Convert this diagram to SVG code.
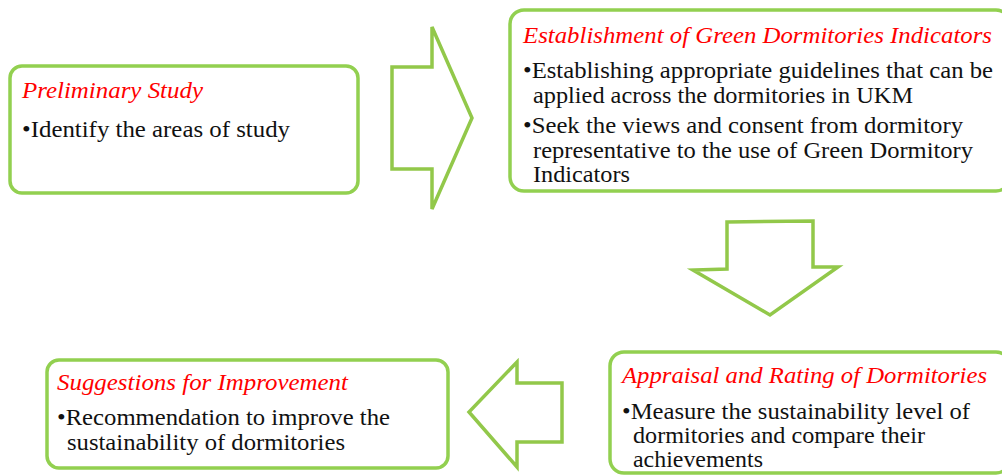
<svg xmlns="http://www.w3.org/2000/svg" width="1002" height="475" viewBox="0 0 1002 475" font-family="Liberation Serif, Times New Roman, serif">
<style>
.box{fill:#fff;stroke:#92D050;stroke-width:3.5}
.arr{fill:#fff;stroke:#92C84A;stroke-width:3.5;stroke-linejoin:miter}
.t{font-style:italic;font-size:23px;fill:#FF0000}
.b{font-size:23px;fill:#111}
</style>
<rect width="1002" height="475" fill="#fff"/>
<g id="connectors">
<polygon class="arr" points="392,67 432,67 432,27 472,118 432,209 432,169 392,169"/>
<polygon class="arr" points="727,222 813,221 813,267 838,267 770,315 693,270 727,269"/>
<polygon class="arr" points="562,383 517,383 517,362 469,412 517,467 517,442 562,442"/>
</g>
<g id="n1">
<rect class="box" x="10" y="66" width="348" height="127" rx="12"/>
<text class="t" x="22" y="98" textLength="181" lengthAdjust="spacingAndGlyphs">Preliminary Study</text>
<text class="b" x="22" y="137" textLength="268" lengthAdjust="spacingAndGlyphs">•Identify the areas of study</text>
</g>
<g id="n2">
<rect class="box" x="510" y="10" width="500" height="181" rx="14"/>
<text class="t" x="523" y="43" textLength="469" lengthAdjust="spacingAndGlyphs">Establishment of Green Dormitories Indicators</text>
<text class="b" x="523" y="78" textLength="470" lengthAdjust="spacingAndGlyphs">•Establishing appropriate guidelines that can be</text>
<text class="b" x="533" y="103" textLength="380" lengthAdjust="spacingAndGlyphs">applied across the dormitories in UKM</text>
<text class="b" x="523" y="133" textLength="440" lengthAdjust="spacingAndGlyphs">•Seek the views and consent from dormitory</text>
<text class="b" x="533" y="158" textLength="440" lengthAdjust="spacingAndGlyphs">representative to the use of Green Dormitory</text>
<text class="b" x="533" y="182" textLength="97" lengthAdjust="spacingAndGlyphs">Indicators</text>
</g>
<g id="n3">
<rect class="box" x="610" y="352" width="400" height="121" rx="14"/>
<text class="t" x="622" y="383" textLength="365" lengthAdjust="spacingAndGlyphs">Appraisal and Rating of Dormitories</text>
<text class="b" x="622" y="419" textLength="348" lengthAdjust="spacingAndGlyphs">•Measure the sustainability level of</text>
<text class="b" x="633" y="443" textLength="292" lengthAdjust="spacingAndGlyphs">dormitories and compare their</text>
<text class="b" x="633" y="467" textLength="130" lengthAdjust="spacingAndGlyphs">achievements</text>
</g>
<g id="n4">
<rect class="box" x="47" y="360" width="401" height="108" rx="12"/>
<text class="t" x="57" y="390" textLength="291" lengthAdjust="spacingAndGlyphs">Suggestions for Improvement</text>
<text class="b" x="57" y="425" textLength="333" lengthAdjust="spacingAndGlyphs">•Recommendation to improve the</text>
<text class="b" x="67" y="450" textLength="278" lengthAdjust="spacingAndGlyphs">sustainability of dormitories</text>
</g>
</svg>
